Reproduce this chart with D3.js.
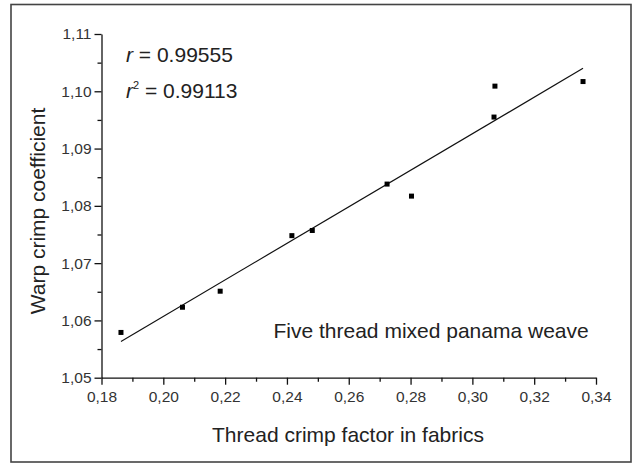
<!DOCTYPE html>
<html>
<head>
<meta charset="utf-8">
<script src="https://cdn.jsdelivr.net/npm/d3@7"></script>
<style>
  html, body { margin: 0; padding: 0; background: #fff; }
  svg text { font-family: "Liberation Sans", Arial, sans-serif; fill: #222; }
  .axis path, .axis line { stroke: #111; stroke-width: 1.3; }
</style>
</head>
<body>
<div id="chart"></div>
<script>
// thread crimp factor (x) vs warp crimp coefficient (y)
var crimpFactor = [0.1863, 0.2062, 0.2184, 0.2416, 0.2482, 0.2724, 0.2803, 0.3070, 0.3073, 0.3358];
var warpCoef    = [1.0579, 1.0623, 1.0651, 1.0748, 1.0757, 1.0838, 1.0817, 1.0955, 1.1009, 1.1017];

var xTicks = [0.18, 0.20, 0.22, 0.24, 0.26, 0.28, 0.30, 0.32, 0.34];
var yTicks = [1.05, 1.06, 1.07, 1.08, 1.09, 1.10, 1.11];
var xMinor = [0.19, 0.21, 0.23, 0.25, 0.27, 0.29, 0.31, 0.33];
var yMinor = [1.055, 1.065, 1.075, 1.085, 1.095, 1.105];

var stats = { r: '0.99555', r2: '0.99113' };
var note = 'Five thread mixed panama weave';

var width = 635, height = 464;

var svg = d3.select('#chart')
    .append('svg')
    .attr('width', width)
    .attr('height', height);

// frame round the whole figure
svg.append('rect')
    .attr('x', 11).attr('y', 4.5)
    .attr('width', 620).attr('height', 457.5)
    .attr('fill', 'none')
    .attr('stroke', '#444')
    .attr('stroke-width', 1.6);

var x = d3.scaleLinear().domain([0.18, 0.34]).range([101.5, 596]);
var y = d3.scaleLinear().domain([1.05, 1.11]).range([377.7, 34]);

var comma = d3.formatLocale({ decimal: ',', thousands: ' ', grouping: [3], currency: ['', ''] });

// minor ticks first, majors drawn over them
svg.append('g')
    .attr('class', 'axis')
    .attr('transform', 'translate(0,' + y.range()[0] + ')')
    .call(d3.axisBottom(x).tickValues(xMinor).tickSize(4).tickFormat(''))
    .select('.domain').remove();

svg.append('g')
    .attr('class', 'axis')
    .attr('transform', 'translate(' + x.range()[0] + ',0)')
    .call(d3.axisLeft(y).tickValues(yMinor).tickSize(4).tickFormat(''))
    .select('.domain').remove();

var xAxis = svg.append('g')
    .attr('class', 'axis')
    .attr('transform', 'translate(0,' + y.range()[0] + ')')
    .call(d3.axisBottom(x).tickValues(xTicks).tickSizeInner(7).tickSizeOuter(0).tickPadding(6)
        .tickFormat(comma.format('.2f')));

var yAxis = svg.append('g')
    .attr('class', 'axis')
    .attr('transform', 'translate(' + x.range()[0] + ',0)')
    .call(d3.axisLeft(y).tickValues(yTicks).tickSizeInner(7).tickSizeOuter(0).tickPadding(3)
        .tickFormat(comma.format('.2f')));

[xAxis, yAxis].forEach(function(g) {
    g.attr('font-size', null).attr('font-family', null);
    g.selectAll('text')
        .style('font-size', '15.5px')
        .style('font-family', '"Liberation Sans", Arial, sans-serif')
        .style('fill', '#333');
});

// least squares line through the points
var pts = crimpFactor.map(function(v, i) { return { x: v, y: warpCoef[i] }; });
var mx = d3.mean(pts, d => d.x), my = d3.mean(pts, d => d.y);
var slope = d3.sum(pts, d => (d.x - mx) * (d.y - my)) / d3.sum(pts, d => (d.x - mx) * (d.x - mx));
var icpt = my - slope * mx;
var xs = d3.extent(crimpFactor);

svg.append('line')
    .attr('x1', x(xs[0])).attr('y1', y(icpt + slope * xs[0]))
    .attr('x2', x(xs[1])).attr('y2', y(icpt + slope * xs[1]))
    .attr('stroke', '#111')
    .attr('stroke-width', 1.2);

svg.selectAll('rect.pt')
    .data(pts)
    .enter().append('rect')
    .attr('class', 'pt')
    .attr('x', d => x(d.x) - 2.5)
    .attr('y', d => y(d.y) - 2.5)
    .attr('width', 5)
    .attr('height', 5)
    .attr('fill', '#000');

// correlation labels
var t1 = svg.append('text').attr('x', 126).attr('y', 62).style('font-size', '21px');
t1.append('tspan').style('font-style', 'italic').text('r');
t1.append('tspan').text(' = ' + stats.r);

var t2 = svg.append('text').attr('x', 126).attr('y', 97.5).style('font-size', '21px');
t2.append('tspan').style('font-style', 'italic').text('r');
t2.append('tspan').attr('dy', -9).style('font-size', '11px').text('2');
t2.append('tspan').attr('dy', 9).text(' = ' + stats.r2);

svg.append('text')
    .attr('x', 273.5).attr('y', 338)
    .style('font-size', '21px')
    .text(note);

// axis titles
svg.append('text')
    .attr('x', 348).attr('y', 441.5)
    .attr('text-anchor', 'middle')
    .style('font-size', '21px')
    .text('Thread crimp factor in fabrics');

svg.append('text')
    .attr('transform', 'translate(45,211) rotate(-90)')
    .attr('text-anchor', 'middle')
    .style('font-size', '21px')
    .text('Warp crimp coefficient');
</script>
</body>
</html>
